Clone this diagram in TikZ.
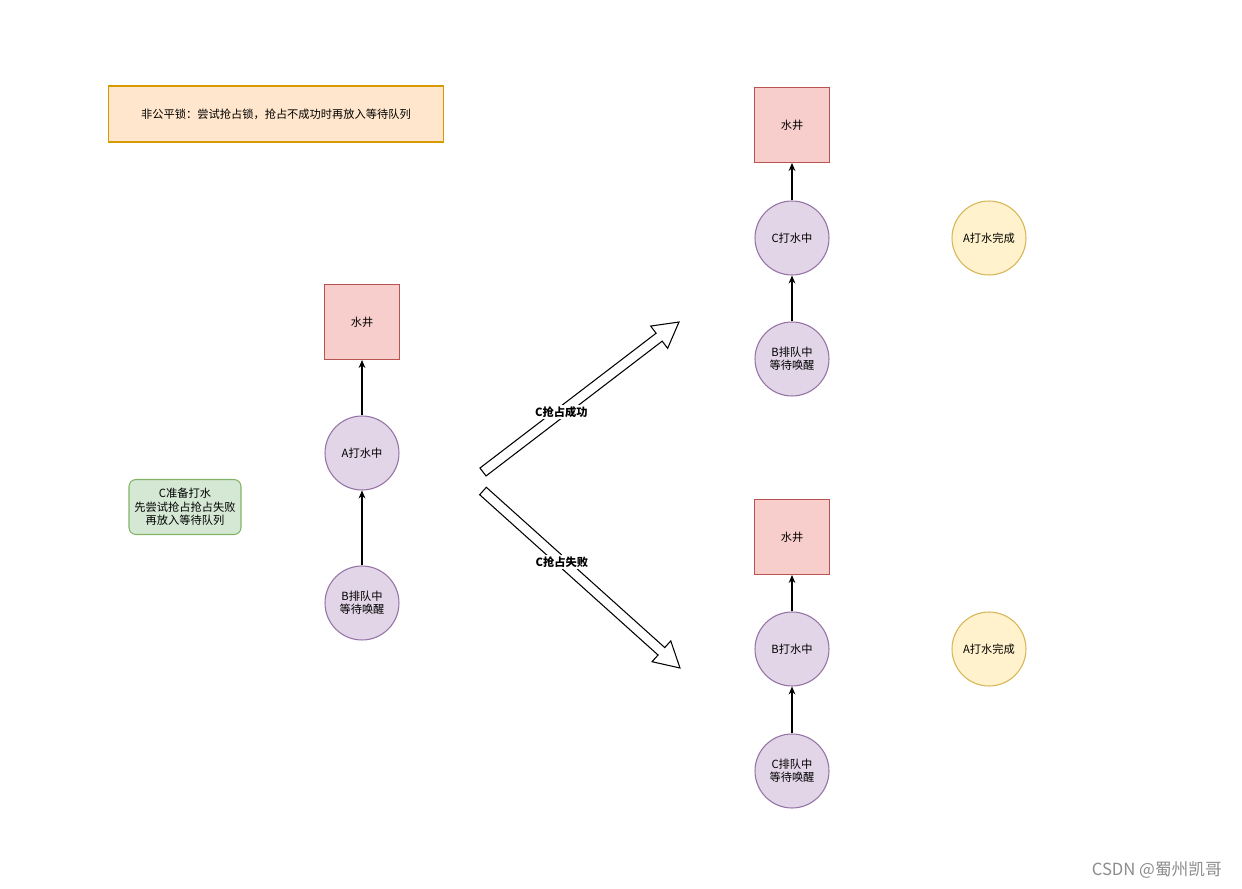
\documentclass[tikz,border=0pt]{standalone}
\usepackage{fontspec}
\setmainfont{Noto Sans CJK SC}
\usetikzlibrary{calc}
\usetikzlibrary{arrows.meta}
\usetikzlibrary{positioning}

\definecolor{wellfill}{HTML}{F8CECC}
\definecolor{welldraw}{HTML}{B85450}
\definecolor{thrfill}{HTML}{E1D5E7}
\definecolor{thrdraw}{HTML}{9673A6}
\definecolor{donefill}{HTML}{FFF2CC}
\definecolor{donedraw}{HTML}{D6B656}
\definecolor{notefill}{HTML}{FFE6CC}
\definecolor{notedraw}{HTML}{D79B00}
\definecolor{tipfill}{HTML}{D5E8D4}
\definecolor{tipdraw}{HTML}{82B366}

\begin{document}
\begin{tikzpicture}[x=0.02cm, y=-0.02cm, font=\fontsize{6.4}{7.6}\selectfont,
    well/.style={rectangle, draw=welldraw, fill=wellfill, line width=0.6pt, minimum size=1.5cm, inner sep=0pt},
    thread/.style={circle, draw=thrdraw, fill=thrfill, line width=0.6pt, minimum size=1.48cm, inner sep=0pt, align=center},
    done/.style={circle, draw=donedraw, fill=donefill, line width=0.6pt, minimum size=1.48cm, inner sep=0pt},
    link/.style={-{Stealth[length=4.5pt,width=3.8pt]}, line width=0.6pt},
    bigarrow/.style={draw=black, fill=white, line width=0.6pt, line join=miter},
    arrowlabel/.style={fill=white, inner sep=1pt, font=\fontsize{6.4}{7.6}\selectfont\bfseries}]
      \useasboundingbox (0,0) rectangle (1242,889);
      % notes
      \node[draw=notedraw, fill=notefill, line width=0.6pt, minimum width=6.72cm, minimum height=1.12cm] (note) at (276,114) {非公平锁：尝试抢占锁，抢占不成功时再放入等待队列};
      \node[draw=tipdraw, fill=tipfill, line width=0.6pt, rounded corners=4pt, minimum width=2.24cm, minimum height=1.1cm, align=center, inner sep=1pt] (tip) at (185,507) {C准备打水\\先尝试抢占抢占失败\\再放入等待队列};
      % before
      \node[well] (w0) at (362,322) {水井};
      \node[thread] (a0) at (362,453) {A打水中};
      \node[thread] (b0) at (362,603) {B排队中\\等待唤醒};
      \draw[link] (b0) -- (a0);
      \draw[link] (a0) -- (w0);
      % C gets the lock
      \node[well] (w1) at (792,125) {水井};
      \node[thread] (c1) at (792,238) {C打水中};
      \node[thread] (b1) at (792,359) {B排队中\\等待唤醒};
      \node[done] (a1) at (989,238) {A打水完成};
      \draw[link] (b1) -- (c1);
      \draw[link] (c1) -- (w1);
      % C fails
      \node[well] (w2) at (792,537) {水井};
      \node[thread] (b2) at (792,649) {B打水中};
      \node[thread] (c2) at (792,771) {C排队中\\等待唤醒};
      \node[done] (a2) at (989,649) {A打水完成};
      \draw[link] (c2) -- (b2);
      \draw[link] (b2) -- (w2);
      % block arrows
      \def\shaft{0.1cm}
      \def\head{0.28cm}
      \coordinate (okTail) at (483,472);
      \coordinate (okTip) at (679,322);
      \coordinate (failTail) at (483,491);
      \coordinate (failTip) at (680,668);
      \foreach \s/\e in {okTail/okTip, failTail/failTip} {
        \coordinate (h) at ($(\e)!0.5cm!(\s)$);
        \draw[bigarrow] ($(\s)!\shaft!90:(\e)$) -- ($(h)!\shaft!-90:(\s)$) -- ($(h)!\head!-90:(\s)$) -- (\e)
          -- ($(h)!\head!90:(\s)$) -- ($(h)!\shaft!90:(\s)$) -- ($(\s)!\shaft!-90:(\e)$) -- cycle;
      }
      \node[arrowlabel] (okLabel) at ($(okTail)!0.4!(okTip)$) {C抢占成功};
      \node[arrowlabel] (failLabel) at ($(failTail)!0.4!(failTip)$) {C抢占失败};
      % watermark
      \node[text=black!45, font=\fontsize{9.5}{11}\selectfont, anchor=east] (mark) at (1228,870) {CSDN @蜀州凯哥};
\end{tikzpicture}
\end{document}
